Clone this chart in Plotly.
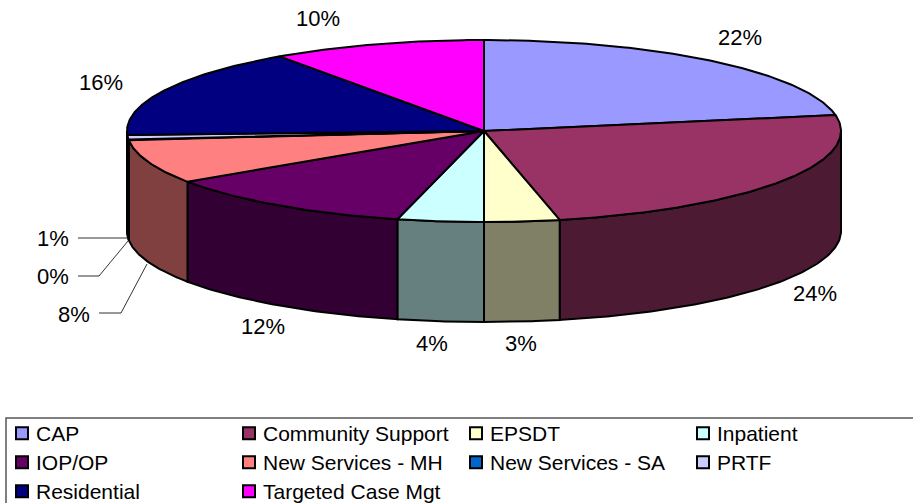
import math
import plotly.graph_objects as go

categories = ["CAP", "Community Support", "EPSDT", "Inpatient", "IOP/OP", "New Services - MH",
              "New Services - SA", "PRTF", "Residential", "Targeted Case Mgt"]
shares = [22.2, 24.4, 3.4, 3.9, 11.7, 7.8, 0.1, 0.8, 16.0, 9.7]
top_colors = ["#9999FF", "#993366", "#FFFFCC", "#CCFFFF", "#660066", "#FF8080",
              "#0066CC", "#CCCCFF", "#000080", "#FF00FF"]
side_colors = ["#4D4D80", "#4D1A33", "#808066", "#668080", "#330033", "#804040",
               "#003366", "#666680", "#000040", "#800080"]

# pixel-based pie geometry
CX, CY, RX, RY, DEPTH = 484, 131, 357, 91, 100
FONT = "Liberation Sans, Arial, sans-serif"
label_xy = [(740, 37), (815, 293), (521, 343), (432, 343), (263, 326),
            (74, 314), (53, 276), (53, 238), (101, 82), (318, 18)]
leaders = [[(78, 238), (127, 238)],
           [(78, 276), (99, 276), (128, 241)],
           [(99, 313), (121, 313), (147, 264)]]


def arc(a0, a1, dy=0.0):
    n = max(2, int(abs(a1 - a0) * 1.5) + 2)
    xs, ys = [], []
    for i in range(n):
        t = math.radians(a0 + (a1 - a0) * i / (n - 1))
        xs.append(CX + RX * math.sin(t))
        ys.append(CY - RY * math.cos(t) + dy)
    return xs, ys


fig = go.Figure()
bounds = [0.0]
for s in shares:
    bounds.append(bounds[-1] + s * 3.6 * 100 / sum(shares))

# side walls, only the front half (90..270 degrees) is visible
for i, name in enumerate(categories):
    a0, a1 = max(bounds[i], 90), min(bounds[i + 1], 270)
    if a1 <= a0:
        continue
    x_t, y_t = arc(a0, a1)
    x_b, y_b = arc(a1, a0, DEPTH)
    fig.add_trace(go.Scatter(x=x_t + x_b + x_t[:1], y=y_t + y_b + y_t[:1], mode="lines", fill="toself",
                             fillcolor=side_colors[i], line=dict(color="black", width=2),
                             showlegend=False, hoverinfo="skip"))
# top wedges
for i, name in enumerate(categories):
    x_t, y_t = arc(bounds[i], bounds[i + 1])
    fig.add_trace(go.Scatter(x=[CX] + x_t + [CX], y=[CY] + y_t + [CY], mode="lines", fill="toself",
                             fillcolor=top_colors[i], line=dict(color="black", width=2),
                             showlegend=False, name=name, hoverinfo="skip"))
# legend entries
for i, name in enumerate(categories):
    fig.add_trace(go.Scatter(x=[None], y=[None], mode="markers", name=name,
                             marker=dict(symbol="square", size=12, color=top_colors[i],
                                         line=dict(color="black", width=2))))
# leader lines
for pts in leaders:
    fig.add_trace(go.Scatter(x=[p[0] for p in pts], y=[p[1] for p in pts], mode="lines",
                             line=dict(color="#333333", width=1), showlegend=False, hoverinfo="skip"))

annotations = [dict(x=x, y=y, text=f"{round(s)}%", showarrow=False, xref="x", yref="y",
                    font=dict(family=FONT, size=22, color="black"))
               for (x, y), s in zip(label_xy, shares)]

fig.update_layout(
    width=913, height=503, margin=dict(l=0, r=0, t=0, b=0, autoexpand=False), autosize=False,
    paper_bgcolor="white", plot_bgcolor="white",
    xaxis=dict(range=[0, 913], visible=False, fixedrange=True),
    yaxis=dict(range=[503, 0], visible=False, fixedrange=True),
    annotations=annotations,
    shapes=[dict(type="rect", xref="x", yref="y", x0=6, x1=960, y0=418, y1=560,
                 line=dict(color="#555555", width=1.5))],
    legend=dict(orientation="h", x=0, y=1 - 413 / 503, xanchor="left", yanchor="top",
                font=dict(family=FONT, size=21, color="black"),
                entrywidth=182, entrywidthmode="pixels", itemwidth=30,
                traceorder="normal", bgcolor="rgba(0,0,0,0)"),
)
post = """
document.documentElement.style.margin='0';
document.body.style.margin='0';
document.body.style.overflow='hidden';
document.querySelectorAll('.legendsymbols').forEach(function(e){e.setAttribute('transform','translate(6,0)');});
var re=/translate\\(([-\\d.]+),\\s*([-\\d.]+)\\)/;
var lg=document.querySelector('.legend');
if(lg){var m=re.exec(lg.getAttribute('transform'));
if(m){lg.setAttribute('transform','translate('+(parseFloat(m[1])-4)+','+m[2]+')');}
var y0=null;
lg.querySelectorAll('.traces').forEach(function(t){var k=re.exec(t.getAttribute('transform'));
if(!k)return;var y=parseFloat(k[2]);if(y0===null)y0=y;
t.setAttribute('transform','translate('+k[1]+','+(y0+(y-y0)*29/30.3)+')');});}
"""
fig.write_html("out.html", config=dict(displayModeBar=False), post_script=post)
